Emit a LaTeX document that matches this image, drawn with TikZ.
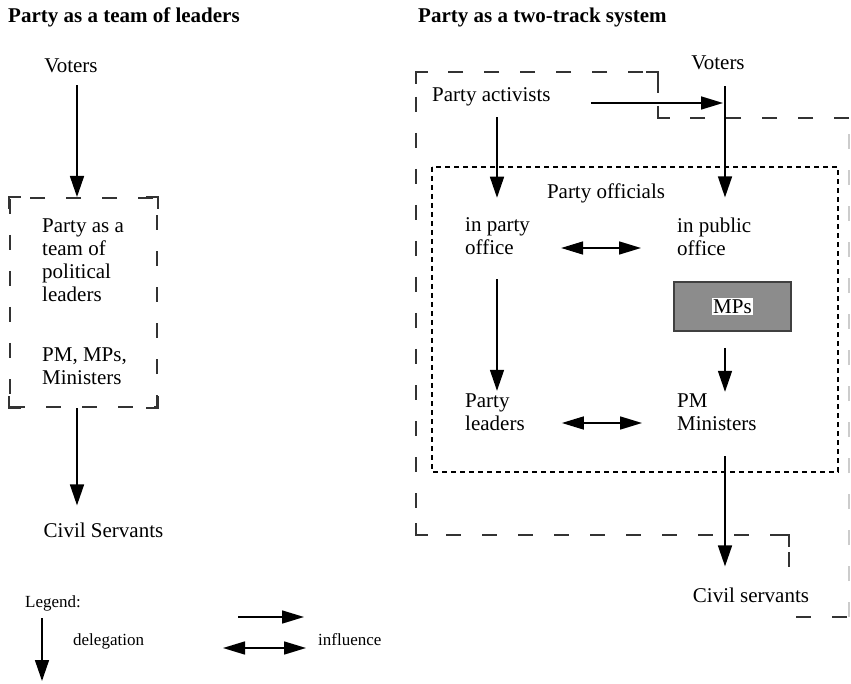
\documentclass[tikz,border=0pt]{standalone}
\usepackage{fontspec}
\setmainfont{Liberation Serif}
\usetikzlibrary{arrows.meta}
\begin{document}
\begin{tikzpicture}[x=1pt,y=-1pt,
  txt/.style={inner sep=0pt, font=\fontsize{21}{23}\selectfont, align=left},
  ttl/.style={inner sep=0pt, anchor=west, font=\fontsize{21}{23}\selectfont\bfseries},
  lgd/.style={inner sep=0pt, anchor=west, font=\fontsize{17}{20}\selectfont},
  deleg/.style={line width=1.6pt, -{Triangle[length=21pt,width=14pt]}},
  infl/.style={line width=1.6pt, -{Triangle[length=22pt,width=13pt]}},
  mutual/.style={line width=1.6pt, {Triangle[length=22pt,width=13pt]}-{Triangle[length=22pt,width=13pt]}},
  bigdash/.style={draw=black!80, line width=2pt, dash pattern=on 15pt off 21pt},
  corner/.style={draw=black!80, line width=2pt},
  smalldash/.style={draw=black, line width=1.4pt, dash pattern=on 5pt off 4pt},
]
\path[use as bounding box, fill=white] (0,0) rectangle (851,684);

% ---------------- Left diagram ----------------
\node[ttl] (t1) at (8,17) {Party as a team of leaders};
\node[txt] (v1) at (71,66) {Voters};
\node[bigdash, minimum width=147pt, minimum height=209pt, inner sep=0pt] (b1) at (83.5,302.5) {};
\draw[corner] (b1.north west) ++(0,12) -- ++(0,-12) -- ++(12,0);
\draw[corner] (b1.north east) ++(-12,0) -- ++(12,0) -- ++(0,12);
\draw[corner] (b1.south west) ++(0,-12) -- ++(0,12) -- ++(12,0);
\draw[corner] (b1.south east) ++(-12,0) -- ++(12,0) -- ++(0,-12);
\node[txt, anchor=west] (tA) at (42,260) {Party as a\\team of\\political\\leaders};
\node[txt, anchor=west] (tB) at (42,366.5) {PM, MPs,\\Ministers};
\node[txt] (cs1) at (103.5,530) {Civil Servants};
\coordinate (xL1) at (77,0);
\draw[deleg, shorten <=12pt] (v1.south -| xL1) -- (b1.north -| xL1);
\draw[deleg, shorten >=17pt] (b1.south -| xL1) -- (cs1.north -| xL1);

% legend
\node[lgd] (lg) at (25,603) {Legend:};
\coordinate (lgA) at (42,618);
\coordinate (lgB) at (42,681);
\draw[deleg] (lgA) -- (lgB);
\node[lgd] (dlg) at (73,641) {delegation};
\coordinate (inA) at (238,617);
\coordinate (inB) at (304,617);
\draw[infl] (inA) -- (inB);
\coordinate (muA) at (223,648);
\coordinate (muB) at (306,648);
\draw[mutual] (muA) -- (muB);
\node[lgd] (inf) at (318,640) {influence};

% ---------------- Right diagram ----------------
\node[ttl] (t2) at (418,17) {Party as a two-track system};

% big dashed outline
\draw[bigdash] (849,118) -- (658,118) -- (658,72) -- (416,72) -- (416,535) -- (789,535) -- (789,617) -- (849,617);
\draw[bigdash, draw=black!20] (849,617) -- (849,118);
\draw[corner] (416,84) -- (416,72) -- (428,72);
\draw[corner] (646,72) -- (658,72) -- (658,84);
\draw[corner] (658,106) -- (658,118) -- (670,118);
\draw[corner] (416,523) -- (416,535) -- (428,535);
\draw[corner] (777,535) -- (789,535) -- (789,547);
% dotted box of party officials
\draw[smalldash] (432,167) rectangle (838,472);

\node[txt] (v2) at (718,63) {Voters};
\node[txt, anchor=west] (pa) at (432,97) {Party activists};
\node[txt] (po) at (606,193) {Party officials};
\node[txt, anchor=west] (ipa) at (465,236.5) {in party\\office};
\node[txt, anchor=west] (ipu) at (677,236.5) {in public\\office};
\node[draw=black!75, line width=1.8pt, fill=black!45, minimum width=117pt, minimum height=49pt, inner sep=0pt] (mps) at (732.5,306.5) {};
\node[txt, fill=white, inner sep=1.5pt] (mpst) at (mps.center) {MPs};
\node[txt, anchor=west] (pl) at (465,412.5) {Party\\leaders};
\node[txt, anchor=west] (pm) at (677,412.5) {PM\\Ministers};
\node[txt, fill=white, inner sep=1pt] (cs2) at (751,595) {Civil servants};

\coordinate (xR) at (725,0);
\coordinate (xP) at (497,0);
\coordinate (yA) at (0,103);
\coordinate (vl) at (725,103);
\coordinate (y1) at (0,248);
\coordinate (y2) at (0,423);

\draw[deleg, shorten <=16pt, shorten >=20pt] (v2.south -| xR) -- (ipu.north -| xR);
\draw[infl, shorten <=40pt, shorten >=2pt] (pa.east |- yA) -- (vl);
\draw[deleg, shorten <=11pt, shorten >=20pt] (pa.south -| xP) -- (ipa.north -| xP);
\draw[mutual, shorten <=31pt, shorten >=36pt] (ipa.east |- y1) -- (ipu.west |- y1);
\draw[deleg, shorten <=24pt, shorten >=3pt] (ipa.south -| xP) -- (pl.north -| xP);
\draw[deleg, shorten <=16pt, shorten >=2pt] (mps.south -| xR) -- (pm.north -| xR);
\draw[mutual, shorten <=37pt, shorten >=35pt] (pl.east |- y2) -- (pm.west |- y2);
\draw[deleg, shorten <=25pt, shorten >=20pt] (pm.south -| xR) -- (cs2.north -| xR);
\end{tikzpicture}
\end{document}
